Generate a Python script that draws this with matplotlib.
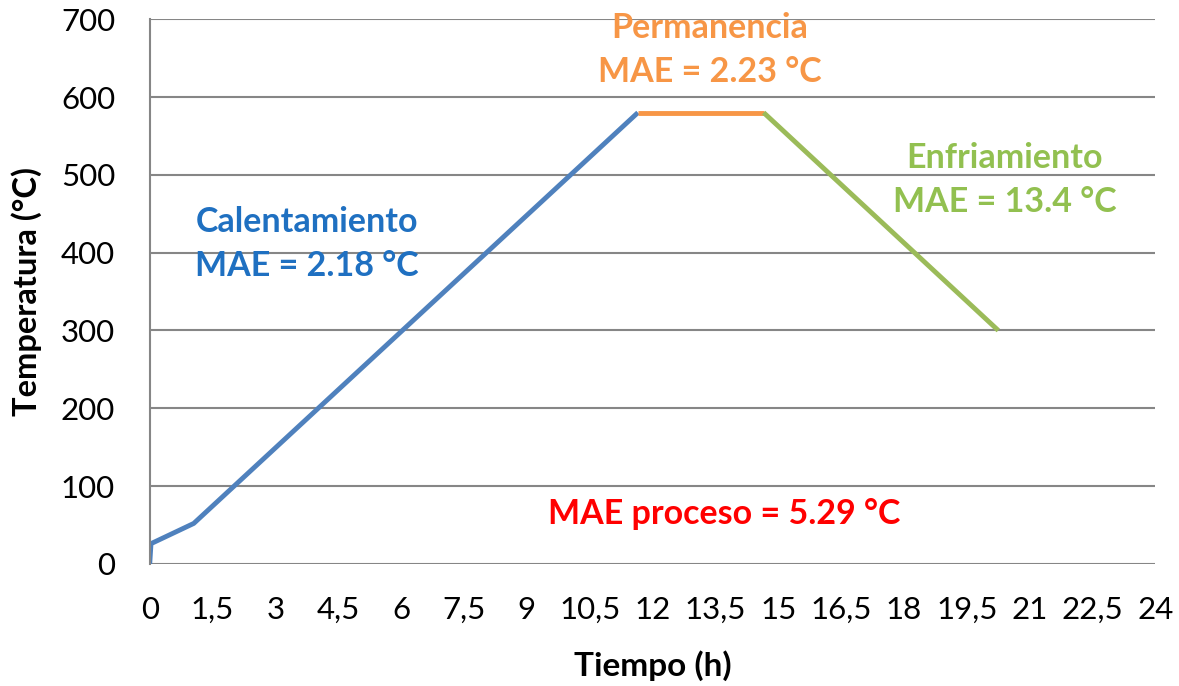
import matplotlib.pyplot as plt
from matplotlib.ticker import FuncFormatter

plt.rcParams['font.family'] = ['Lato', 'DejaVu Sans']

# heating / holding / cooling segments (h, °C)
heat_t = [0, 0.03, 1.05, 11.65]
heat_T = [0, 26, 52, 580]
hold_t = [11.65, 14.65]
hold_T = [580, 580]
cool_t = [14.65, 20.25]
cool_T = [580, 300]

xticks = [0, 1.5, 3, 4.5, 6, 7.5, 9, 10.5, 12, 13.5, 15, 16.5, 18, 19.5, 21, 22.5, 24]
yticks = [0, 100, 200, 300, 400, 500, 600, 700]

fig = plt.figure(figsize=(11.79, 6.86), dpi=100)
ax = fig.add_axes([0.127, 0.178, 0.853, 0.794])

ax.plot(heat_t, heat_T, color='#4F81BD', lw=3.5, solid_capstyle='butt')
ax.plot(hold_t, hold_T, color='#F79646', lw=3.5, solid_capstyle='butt')
ax.plot(cool_t, cool_T, color='#9BBB59', lw=3.5, solid_capstyle='butt')

ax.set_xlim(0, 24)
ax.set_ylim(0, 700)
ax.set_xticks(xticks)
ax.set_yticks(yticks)
ax.xaxis.set_major_formatter(FuncFormatter(lambda v, p: f"{v:g}".replace('.', ',')))
ax.tick_params(length=0, labelsize=22.5)
ax.tick_params(axis='x', pad=23)
ax.tick_params(axis='y', pad=25)
ax.grid(axis='y', color='#868686', lw=1.5)
ax.set_axisbelow(True)
for s in ['top', 'right', 'bottom']:
    ax.spines[s].set_visible(False)
ax.spines['left'].set_color('#868686')
ax.spines['left'].set_linewidth(1.5)

ax.set_xlabel('Tiempo (h)', fontsize=24, fontweight='bold', va='center')
ax.set_ylabel('Temperatura (°C)', fontsize=23.5, fontweight='bold', va='center')
ax.xaxis.set_label_coords(0.5, -0.186)
ax.yaxis.set_label_coords(-0.122, 0.5)

kw = dict(ha='center', va='center', fontsize=24.5, fontweight='bold', linespacing=1.45)
ax.text(3.75, 411, 'Calentamiento\nMAE = 2.18 °C', color='#1F70C1', **kw)
ax.text(13.37, 660, 'Permanencia\nMAE = 2.23 °C', color='#F79646', **kw)
ax.text(20.4, 493, 'Enfriamiento\nMAE = 13.4 °C', color='#92C050', **kw)
ax.text(13.7, 64, 'MAE proceso = 5.29 °C', color='#FF0000', **kw)

fig.savefig('out.png', dpi=100)
